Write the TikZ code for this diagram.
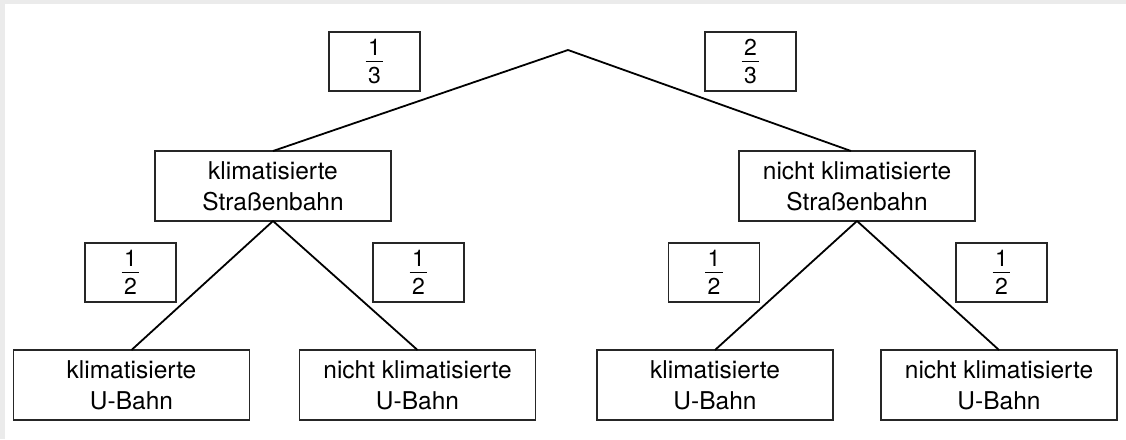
\documentclass[tikz,border=0pt]{standalone}
\usepackage{fontspec}
\setmainfont{TeX Gyre Heros}
\newcommand\bruch[2]{\vbox{\offinterlineskip\halign{\hfil\kern2.5pt##\kern2.5pt\hfil\cr
  \rule{0pt}{16pt}#1\cr\noalign{\kern5pt\hrule height 1.2pt\kern5pt}
  \rule{0pt}{16pt}#2\cr}}}
\tikzset{
  zustand/.style={draw=black!85, line width=1.1pt, fill=white, inner sep=0pt, outer sep=0pt,
    minimum width=236pt, minimum height=70pt, align=center,
    font=\fontsize{24.5}{31}\selectfont},
  wkeit/.style={draw=black!85, line width=1.1pt, fill=white, inner sep=0pt, outer sep=0pt,
    minimum width=91pt, minimum height=59pt, font=\fontsize{23}{27}\selectfont},
  ast/.style={line width=1.8pt, black}
}
\begin{document}
\begin{tikzpicture}[x=1pt,y=-1pt]
  % page frame
  \fill[black!8] (0,0) rectangle (1126,439);
  \fill[white] (5,4) rectangle (1126,439);
  \useasboundingbox (0,0) rectangle (1126,439);

  % root of the tree
  \coordinate (wurzel) at (568,50);

  % first stage: tram
  \node[zustand] (sk) at (273,186) {klimatisierte\\Straßenbahn};
  \node[zustand] (sn) at (857,186) {nicht klimatisierte\\Straßenbahn};

  % second stage: underground
  \node[zustand] (skk) at (131.5,385) {klimatisierte\\U-Bahn};
  \node[zustand] (skn) at (417.5,385) {nicht klimatisierte\\U-Bahn};
  \node[zustand] (snk) at (715,385) {klimatisierte\\U-Bahn};
  \node[zustand] (snn) at (999,385) {nicht klimatisierte\\U-Bahn};

  % branches
  \draw[ast] (wurzel) -- (sk.north);
  \draw[ast] (wurzel) -- ([xshift=-6pt]sn.north);
  \draw[ast] (sk.south) -- (skk.north);
  \draw[ast] (sk.south) -- (skn.north);
  \draw[ast] (sn.south) -- (snk.north);
  \draw[ast] (sn.south) -- (snn.north);

  % branch probabilities
  \node[wkeit] (p13) at (374.5,61.5) {\bruch{1}{3}};
  \node[wkeit] (p23) at (750.5,61.5) {\bruch{2}{3}};
  \node[wkeit] (p1) at (130.5,272.5) {\bruch{1}{2}};
  \node[wkeit] (p2) at (418.5,272.5) {\bruch{1}{2}};
  \node[wkeit] (p3) at (714,272.5) {\bruch{1}{2}};
  \node[wkeit] (p4) at (1001.5,272.5) {\bruch{1}{2}};
\end{tikzpicture}
\end{document}
